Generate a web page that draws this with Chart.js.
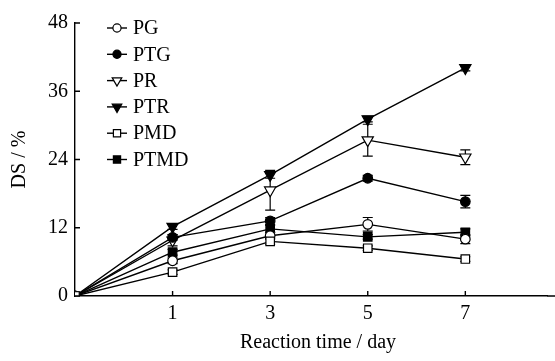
<!DOCTYPE html>
<html>
<head>
<meta charset="utf-8">
<script src="https://cdn.jsdelivr.net/npm/chart.js@4/dist/chart.umd.min.js"></script>
<style>
  html, body { margin: 0; padding: 0; background: #fff; }
  #wrap { width: 555px; height: 361px; }
</style>
</head>
<body>
<div id="wrap"><canvas id="myChart" width="555" height="361"></canvas></div>
<script>
// days are shown as evenly spaced categories
const days = ["0", "1", "3", "5", "7"];
const yTicks = [0, 12, 24, 36, 48];

const seriesNames = ["PG", "PTG", "PR", "PTR", "PMD", "PTMD"];
const pgValues = [0, 6.2, 10.6, 12.6, 10.0];
const ptgValues = [0, 10.3, 13.2, 20.7, 16.6];
const prValues = [0, 9.8, 18.6, 27.4, 24.4];
const ptrValues = [0, 12.2, 21.3, 31.1, 40.1];
const pmdValues = [0, 4.2, 9.6, 8.4, 6.5];
const ptmdValues = [0, 7.7, 11.8, 10.4, 11.2];

// standard deviations (error bars)
const pgErr = [0, 0.5, 0.6, 1.2, 0.8];
const ptgErr = [0, 0.5, 0.6, 0.5, 1.1];
const prErr = [0, 1.0, 3.5, 2.8, 1.3];
const ptrErr = [0, 0.5, 0.6, 0.5, 0.5];
const pmdErr = [0, 0.4, 0.5, 0.4, 0.4];
const ptmdErr = [0, 0.5, 0.6, 0.4, 0.6];

const FONT = "'Liberation Serif', 'Times New Roman', serif";

function makeSet(label, values, errs, style, filled, radius, rotation) {
  return {
    label: label,
    data: values.map((v, i) => ({ x: i, y: v })),
    errors: errs,
    borderColor: "#000",
    borderWidth: 1.4,
    pointStyle: style,
    pointRadius: radius,
    pointRotation: rotation || 0,
    pointBackgroundColor: filled ? "#000" : "#fff",
    pointBorderColor: "#000",
    pointBorderWidth: 1.2,
    tension: 0,
  };
}

const datasets = [
  makeSet(seriesNames[4], pmdValues, pmdErr, "rect", false, 6),
  makeSet(seriesNames[0], pgValues, pgErr, "circle", false, 4.8),
  makeSet(seriesNames[5], ptmdValues, ptmdErr, "rect", true, 6),
  makeSet(seriesNames[1], ptgValues, ptgErr, "circle", true, 4.8),
  makeSet(seriesNames[2], prValues, prErr, "triangle", false, 6.5, 180),
  makeSet(seriesNames[3], ptrValues, ptrErr, "triangle", true, 6.5, 180),
];

// error bars, inside tick marks, legend and axis titles
const extrasPlugin = {
  id: "extras",
  beforeDatasetsDraw(chart) {
    const ctx = chart.ctx;
    const xs = chart.scales.x;
    const ys = chart.scales.y;
    ctx.save();
    ctx.strokeStyle = "#000";
    ctx.lineWidth = 1.2;
    chart.data.datasets.forEach((ds) => {
      ds.data.forEach((p, i) => {
        const e = ds.errors[i];
        if (!e) return;
        const px = xs.getPixelForValue(p.x);
        const top = ys.getPixelForValue(p.y + e);
        const bot = ys.getPixelForValue(p.y - e);
        ctx.beginPath();
        ctx.moveTo(px, top); ctx.lineTo(px, bot);
        ctx.moveTo(px - 5, top); ctx.lineTo(px + 5, top);
        ctx.moveTo(px - 5, bot); ctx.lineTo(px + 5, bot);
        ctx.stroke();
      });
    });
    ctx.restore();
  },
  afterDraw(chart) {
    const ctx = chart.ctx;
    const xs = chart.scales.x;
    const ys = chart.scales.y;
    const area = chart.chartArea;
    ctx.save();
    ctx.strokeStyle = "#000";
    ctx.lineWidth = 1.4;
    ctx.beginPath();
    // x axis runs to the right edge of the figure
    ctx.moveTo(area.right, area.bottom); ctx.lineTo(555, area.bottom);
    xs.ticks.forEach((t) => {
      const px = xs.getPixelForValue(t.value);
      ctx.moveTo(px, area.bottom); ctx.lineTo(px, area.bottom - 5);
    });
    ys.ticks.forEach((t) => {
      const py = ys.getPixelForValue(t.value);
      ctx.moveTo(area.left, py); ctx.lineTo(area.left + 5, py);
    });
    ctx.stroke();

    // legend
    const order = [1, 3, 4, 5, 0, 2];
    ctx.font = "20px " + FONT;
    ctx.textBaseline = "middle";
    ctx.fillStyle = "#000";
    order.forEach((di, row) => {
      const ds = chart.data.datasets[di];
      const y = 28 + row * 26.3;
      ctx.beginPath();
      ctx.lineWidth = 1.4;
      ctx.moveTo(107, y); ctx.lineTo(127, y);
      ctx.stroke();
      ctx.fillStyle = ds.pointBackgroundColor;
      ctx.lineWidth = 1.2;
      Chart.helpers.drawPoint(ctx, {
        pointStyle: ds.pointStyle,
        radius: ds.pointRadius * 0.85,
        rotation: ds.pointRotation,
        borderWidth: 1.2,
      }, 117, y);
      ctx.fillStyle = "#000";
      ctx.fillText(ds.label, 133, y + 1);
    });

    // axis titles
    ctx.font = "20px " + FONT;
    ctx.textAlign = "center";
    ctx.fillText("Reaction time / day", 318, 343);
    ctx.translate(20, (area.top + area.bottom) / 2);
    ctx.rotate(-Math.PI / 2);
    ctx.fillText("DS / %", 0, 0);
    ctx.restore();
  },
};

const ctx = document.getElementById("myChart").getContext("2d");
const myChartInstance = new Chart(ctx, {
  type: "line",
  data: { datasets: datasets },
  plugins: [extrasPlugin],
  options: {
    responsive: false,
    animation: false,
    layout: { padding: { top: 23, right: 0, left: 0, bottom: 0 } },
    plugins: { legend: { display: false }, tooltip: { enabled: false } },
    scales: {
      x: {
        type: "linear",
        min: 0,
        max: 4.84,
        afterBuildTicks: (scale) => {
          scale.ticks = days.slice(1).map((d, i) => ({ value: i + 1 }));
        },
        afterFit: (scale) => { scale.height = 65; },
        grid: { display: false, drawTicks: false, tickLength: 0 },
        border: { display: true, color: "#000", width: 1.4 },
        ticks: {
          color: "#000",
          padding: 6,
          maxRotation: 0,
          font: { family: FONT, size: 20 },
          callback: (v) => days[v],
        },
      },
      y: {
        min: 0,
        max: 48,
        afterBuildTicks: (scale) => {
          scale.ticks = yTicks.map((v) => ({ value: v }));
        },
        afterFit: (scale) => { scale.width = 75; },
        grid: { display: false, drawTicks: false, tickLength: 0 },
        border: { display: true, color: "#000", width: 1.4 },
        ticks: {
          color: "#000",
          padding: 7,
          font: { family: FONT, size: 20 },
        },
      },
    },
  },
});
</script>
</body>
</html>
